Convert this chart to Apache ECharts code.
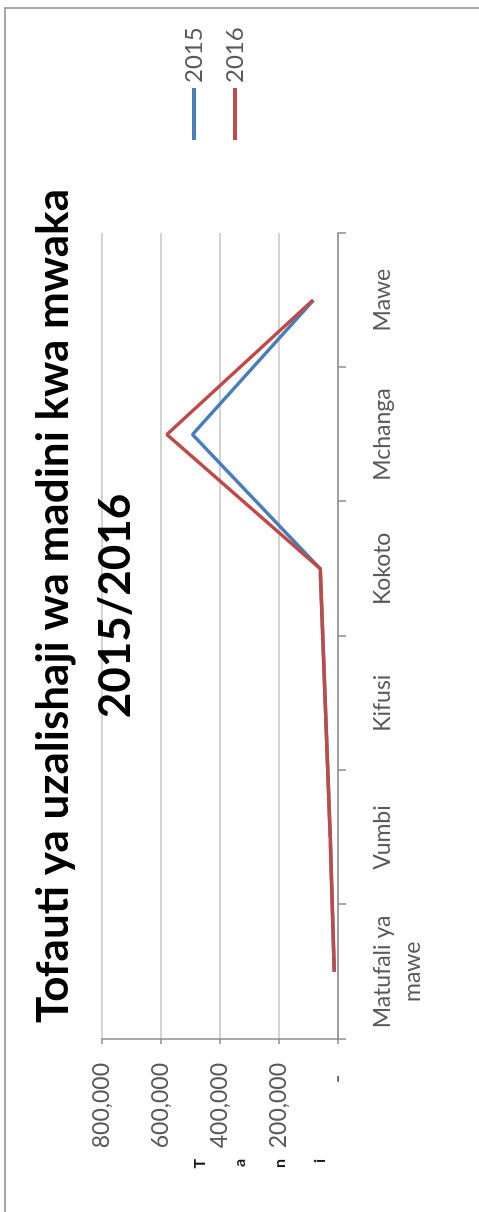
<!DOCTYPE html>
<html>
<head>
<meta charset="utf-8">
<script src="https://cdn.jsdelivr.net/npm/echarts@6/dist/echarts.min.js"></script>
<style>
  html, body { margin: 0; padding: 0; background: #fff; overflow: hidden; width: 479px; height: 1212px; }
  #main {
    position: absolute; left: 0; top: 0;
    width: 1212px; height: 479px;
    transform-origin: 0 0;
    transform: translateY(1212px) rotate(-90deg);
  }
</style>
</head>
<body>
<div id="main"></div>
<script>
// ---- data ----
const titleLines = ['Tofauti ya uzalishaji wa madini kwa mwaka', '2015/2016'];
const categories = ['Matufali ya mawe', 'Vumbi', 'Kifusi', 'Kokoto', 'Mchanga', 'Mawe'];
const seriesNames = ['2015', '2016'];
const values2015 = [13000, 26000, 43000, 60000, 493000, 83000];
const values2016 = [13000, 26000, 43000, 60000, 580000, 85000];
const valueTicks = [0, 200000, 400000, 600000, 800000];
const axisName = 'Tani';

const chart = echarts.init(document.getElementById('main'), null, { renderer: 'canvas', devicePixelRatio: 1 });
const FONT = 'Lato, "Open Sans", sans-serif';

const option = {
  animation: false,
  backgroundColor: '#ffffff',
  graphic: [{
    type: 'rect', silent: true, z: -1,
    shape: { x: -10, y: 5, width: 1214, height: 500 },
    style: { fill: 'none', stroke: '#a6a6a6', lineWidth: 2 }
  }],
  title: {
    text: titleLines.join('\n'),
    left: 'center',
    top: 18,
    textStyle: { fontFamily: FONT, fontWeight: 'bold', fontSize: 44, lineHeight: 62, color: '#000' }
  },
  legend: {
    orient: 'vertical',
    left: 1067, top: 174,
    itemWidth: 52, itemHeight: 4, itemGap: 11,
    icon: 'rect',
    data: seriesNames,
    textStyle: { fontFamily: FONT, fontSize: 24, lineHeight: 30, color: '#595959' }
  },
  grid: { left: 173, right: 233, top: 102, bottom: 141, containLabel: false, outerBoundsMode: 'none' },
  xAxis: {
    type: 'category',
    data: categories,
    boundaryGap: true,
    axisLine: { show: true, lineStyle: { color: '#8c8c8c', width: 1.5 } },
    axisTick: { show: true, length: 8, alignWithLabel: false, lineStyle: { color: '#8c8c8c', width: 1.5 } },
    axisLabel: {
      interval: 0, margin: 30,
      fontFamily: FONT, fontSize: 23, lineHeight: 30, color: '#595959',
      formatter: v => v.replace(' ya mawe', ' ya\nmawe')
    }
  },
  yAxis: {
    type: 'value',
    min: valueTicks[0], max: valueTicks[valueTicks.length - 1], interval: valueTicks[1] - valueTicks[0],
    name: '\n\n' + axisName.split('').join('\n'),
    nameLocation: 'middle', nameRotate: 0, nameGap: 120,
    nameTextStyle: { fontFamily: FONT, fontWeight: 'bold', fontSize: 16, lineHeight: 40, color: '#1a1a1a' },
    axisLine: { show: true, lineStyle: { color: '#8c8c8c', width: 1.5 } },
    axisTick: { show: true, length: 5, lineStyle: { color: '#8c8c8c', width: 1.5 } },
    splitLine: { show: true, lineStyle: { color: '#c4c4c4', width: 1.5 } },
    axisLabel: {
      margin: 24,
      fontFamily: FONT, fontSize: 23, color: '#595959',
      formatter: v => v === 0 ? '-  ' : v.toLocaleString('en-US')
    }
  },
  series: [
    { name: seriesNames[0], type: 'line', data: values2015, symbol: 'none', color: '#4a7ebb',
      lineStyle: { width: 3.5, color: '#4a7ebb' }, z: 2 },
    { name: seriesNames[1], type: 'line', data: values2016, symbol: 'none', color: '#be4b48',
      lineStyle: { width: 3.5, color: '#be4b48' }, z: 3 }
  ]
};
chart.setOption(option);
</script>
</body>
</html>
